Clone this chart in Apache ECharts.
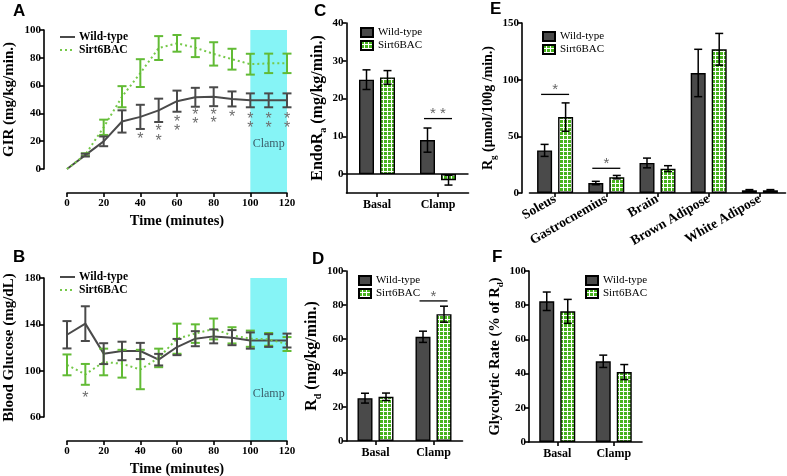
<!DOCTYPE html>
<html><head><meta charset="utf-8">
<script src="https://cdn.jsdelivr.net/npm/echarts@6/dist/echarts.min.js"></script>
<style>html,body{margin:0;padding:0;background:#fff}#c{width:787px;height:476px}</style>
</head><body><div id="c"></div>
<script>
// ---------- DATA ----------
const timePts = [0,10,20,30,40,50,60,70,80,90,100,110,120];
// Panel A: GIR (mg/kg/min.)
const girWT     = [0,10,19.9,34.2,37.5,42.2,48.8,51.6,52,50.4,49.4,49.4,49.4];
const girWTErr  = [0,1,3.5,8,8.7,8.4,7.6,6.8,6.8,5.4,5,5,5];
const girTG     = [0,10.3,30,52,69,87,90.4,87.3,82.8,79,75.4,76,76];
const girTGErr  = [0,1,5.5,7.6,10,8.6,6,6.8,8.4,7.5,7.5,7,7];
const girStars  = [[40,23.2],[50,29.3],[50,22.1],[60,35.7],[60,29.3],[70,40.5],[70,34],[80,40.7],[80,34.5],[90,38.8],[100,37.6],[100,31.2],[110,37.6],[110,31.2],[120,37.6],[120,31.2]];
// Panel B: Blood glucose (mg/dL)
const gluWT     = [131,140.6,114.7,117,117,109.5,120.4,127.6,129.6,128.5,126,126,126];
const gluWTErr  = [11.8,15,9,8,7,5,7,6.5,6,6.5,7,5.5,6];
const gluTG     = [105,96.8,107.5,106,101,111,127.6,132,136,130.5,127.6,127,123];
const gluTGErr  = [9,9,11.5,12,17,8,13,8,9,7,7,5.5,6];
const gluStars  = [[10,78.7]];
const clampRange = [100,120];
const clampLabelA = 18, clampLabelB = 80;
// Panel C: EndoRa
const phaseCats = ['Basal','Clamp'];
const endoWT = [25,9.0],   endoWTErr = [2.6,3.2];
const endoTG = [25.6,-1.6], endoTGErr = [1.8,1.3];
const endoSig = [[1,14.7]], endoSigText = ['* *'];
// Panel D: Rd
const rdWT = [25.2,61.3], rdWTErr = [2.9,3.3];
const rdTG = [26,74.6],   rdTGErr = [2.2,4.7];
const rdSig = [[1,82.4]], rdSigText = ['*'];
// Panel E: Rg
const tissueCats = ['Soleus','Gastrocnemius','Brain','Brown Adipose','White Adipose'];
const rgWT = [37.6,8.8,26.5,105.9,2.4], rgWTErr = [5.3,1.5,4.3,20.9,0.6];
const rgTG = [67,14,21.5,126.8,2.4],    rgTGErr = [12.5,1.5,2.6,14,0.6];
const rgSig = [[0,87],[1,21.8]], rgSigText = ['*','*'];
// Panel F: Glycolytic rate
const glyWT = [82.3,47.2], glyWTErr = [5.4,3.6];
const glyTG = [76.4,40.9], glyTGErr = [7,4.4];

// ---------- STYLE ----------
const serif = "'Liberation Serif', 'DejaVu Serif', serif";
const sans = "'Liberation Sans', Arial, sans-serif";
const wtColor = '#4a4a4a', greenLine = '#76c94a', greenErr = '#62bb35';
const BW = 15, GAPPX = 6, SHIFT = BW/2 + GAPPX/2;

function greenPattern(){
  const c = document.createElement('canvas'); c.width = 4; c.height = 4;
  const g = c.getContext('2d');
  g.fillStyle = '#ffffff'; g.fillRect(0,0,4,4);
  g.fillStyle = '#48b31f'; g.fillRect(0,0,3,3);
  return c;
}
const patternFill = {image: greenPattern(), repeat: 'repeat'};

const axLine = {show:true, onZero:false, lineStyle:{color:'#000', width:1.6}};
const axTick = {show:true, length:4, lineStyle:{color:'#000', width:1.6}};
const lblFont = {fontFamily:serif, fontWeight:'bold', fontSize:11, color:'#000'};
const nameFont = {fontFamily:serif, fontWeight:'bold', fontSize:13.5, color:'#000'};

function valX(grid){
  return {type:'value', gridIndex:grid, min:0, max:120, interval:20, offset:24,
    axisLine:axLine, axisTick:axTick, splitLine:{show:false},
    axisLabel:Object.assign({margin:5}, lblFont),
    name:'Time (minutes)', nameLocation:'middle', nameGap:21,
    nameTextStyle:Object.assign({}, nameFont, {fontSize:14.5})};
}
function catX(grid, cats, extra){
  return Object.assign({type:'category', gridIndex:grid, data:cats,
    axisLine:axLine, axisTick:Object.assign({alignWithLabel:true}, axTick), splitLine:{show:false},
    axisLabel:Object.assign({margin:6}, lblFont, {fontSize:12})}, extra||{});
}
function valY(grid, min, max, interval, name, gap, fs, extra){
  const nf = Object.assign({}, nameFont, {fontSize:fs});
  const o = {type:'value', gridIndex:grid, min:min, max:max, interval:interval,
    axisLine:axLine, axisTick:axTick, splitLine:{show:false},
    axisLabel:Object.assign({margin:3}, lblFont),
    name:name, nameLocation:'middle', nameGap:gap, nameRotate:90,
    nameTextStyle:Object.assign({}, nf, {
      rich:{n:Object.assign({}, nf), s:Object.assign({}, nf, {fontSize:Math.round(fs*0.65), verticalAlign:'bottom', padding:[0,0,-3,0]})}})};
  return Object.assign(o, extra||{});
}

function lineErr(color){
  return function(params, api){
    const x = api.value(0), y = api.value(1), e = api.value(2);
    if (!e) return null;
    const t = api.coord([x, y+e]), b = api.coord([x, y-e]);
    const hw = 4.5;
    const st = () => ({stroke:color, lineWidth:2});
    return {type:'group', children:[
      {type:'line', shape:{x1:t[0], y1:t[1], x2:b[0], y2:b[1]}, style:st()},
      {type:'line', shape:{x1:t[0]-hw, y1:t[1], x2:t[0]+hw, y2:t[1]}, style:st()},
      {type:'line', shape:{x1:b[0]-hw, y1:b[1], x2:b[0]+hw, y2:b[1]}, style:st()}]};
  };
}
function barErr(dx){
  return function(params, api){
    const i = api.value(0), v = api.value(1), e = api.value(2);
    const t = api.coord([i, v+e]), b = api.coord([i, v-e]);
    const x = t[0] + dx, hw = 4;
    const st = () => ({stroke:'#000', lineWidth:1.5});
    return {type:'group', children:[
      {type:'line', shape:{x1:x, y1:t[1], x2:x, y2:b[1]}, style:st()},
      {type:'line', shape:{x1:x-hw, y1:t[1], x2:x+hw, y2:t[1]}, style:st()},
      {type:'line', shape:{x1:x-hw, y1:b[1], x2:x+hw, y2:b[1]}, style:st()}]};
  };
}
function starRender(params, api){
  const c = api.coord([api.value(0), api.value(1)]);
  return {type:'text', x:c[0], y:c[1]+3, style:{text:'*', fill:'#6e6e6e', font:'16px ' + sans,
    align:'center', verticalAlign:'middle', textAlign:'center', textVerticalAlign:'middle'}};
}
function sigRender(texts){
  return function(params, api){
    const c = api.coord([api.value(0), api.value(1)]);
    return {type:'group', children:[
      {type:'line', shape:{x1:c[0]-14, y1:c[1], x2:c[0]+14, y2:c[1]}, style:{stroke:'#000', lineWidth:1.3}},
      {type:'text', x:c[0], y:c[1]+3, style:{text:texts[params.dataIndex], fill:'#666', font:'15px ' + sans,
        align:'center', verticalAlign:'bottom', textAlign:'center', textVerticalAlign:'bottom'}}]};
  };
}
function clampRender(yTop, yBot, labelY){
  return function(params, api){
    const p1 = api.coord([api.value(0), yTop]), p2 = api.coord([api.value(1), yBot]);
    const lp = api.coord([(api.value(0)+api.value(1))/2, labelY]);
    return {type:'group', children:[
      {type:'rect', shape:{x:p1[0], y:p1[1], width:p2[0]-p1[0], height:p2[1]+24-p1[1]}, style:{fill:'#86f4f6'}},
      {type:'text', x:lp[0], y:lp[1], style:{text:'Clamp', fill:'#3c5f6b', font:'12px ' + serif,
        align:'center', verticalAlign:'middle', textAlign:'center', textVerticalAlign:'middle'}}]};
  };
}
function linePanel(idx, wt, wtE, tg, tgE, stars, yTop, yBot, labelY){
  return [
    {type:'custom', xAxisIndex:idx, yAxisIndex:idx, data:[clampRange], renderItem:clampRender(yTop, yBot, labelY), z:0, silent:true, clip:false},
    {type:'line', name:'Wild-type', xAxisIndex:idx, yAxisIndex:idx, data:timePts.map((t,i)=>[t,wt[i]]),
      symbol:'none', lineStyle:{color:wtColor, width:2}, itemStyle:{color:'rgba(0,0,0,0)'}, z:3},
    {type:'line', name:'Sirt6BAC', xAxisIndex:idx, yAxisIndex:idx, data:timePts.map((t,i)=>[t,tg[i]]),
      symbol:'none', lineStyle:{color:greenLine, width:2, type:[2,3]}, itemStyle:{color:'rgba(0,0,0,0)'}, z:3},
    {type:'custom', xAxisIndex:idx, yAxisIndex:idx, data:timePts.map((t,i)=>[t,tg[i],tgE[i]]), renderItem:lineErr(greenErr), z:4, silent:true},
    {type:'custom', xAxisIndex:idx, yAxisIndex:idx, data:timePts.map((t,i)=>[t,wt[i],wtE[i]]), renderItem:lineErr(wtColor), z:5, silent:true},
    {type:'custom', xAxisIndex:idx, yAxisIndex:idx, data:stars, renderItem:starRender, z:5, silent:true}
  ];
}
function barPanel(idx, wt, wtE, tg, tgE, sig, sigText, extraWT){
  const s = [
    Object.assign({type:'bar', name:'Wild-type ', xAxisIndex:idx, yAxisIndex:idx, data:wt, barWidth:BW, barGap:(GAPPX/BW*100)+'%',
      itemStyle:{color:wtColor, borderColor:'#000', borderWidth:1.4}, z:2}, extraWT||{}),
    {type:'bar', name:'Sirt6BAC ', xAxisIndex:idx, yAxisIndex:idx, data:tg, barWidth:BW, barGap:(GAPPX/BW*100)+'%',
      itemStyle:{color:patternFill, borderColor:'#000', borderWidth:1.4}, z:2},
    {type:'custom', xAxisIndex:idx, yAxisIndex:idx, data:wt.map((v,i)=>[i,v,wtE[i]]), renderItem:barErr(-SHIFT), z:4, silent:true},
    {type:'custom', xAxisIndex:idx, yAxisIndex:idx, data:tg.map((v,i)=>[i,v,tgE[i]]), renderItem:barErr(SHIFT), z:4, silent:true}
  ];
  if (sig) s.push({type:'custom', xAxisIndex:idx, yAxisIndex:idx, data:sig, renderItem:sigRender(sigText), z:5, silent:true});
  return s;
}
function lineLegend(left, top){
  return {left:left, top:top, orient:'vertical', itemWidth:15, itemHeight:8, itemGap:1,
    data:['Wild-type','Sirt6BAC'], selectedMode:false,
    textStyle:{fontFamily:serif, fontWeight:'bold', fontSize:11.5, color:'#000', padding:[0,0,0,-1]}};
}
function barLegend(left, top){
  return {left:left, top:top, orient:'vertical', itemWidth:12, itemHeight:9, itemGap:2, icon:'rect',
    data:['Wild-type ','Sirt6BAC '], selectedMode:false, formatter:n => n.trim(),
    textStyle:{fontFamily:serif, fontSize:11, color:'#000'}};
}
function letter(t, l, tp){
  return {type:'text', left:l, top:tp, style:{text:t, font:'bold 17px ' + sans, fill:'#000'}};
}

const chart = echarts.init(document.getElementById('c'));
chart.setOption({
  animation:false,
  backgroundColor:'#fff',
  grid:[
    {left:67, top:30, width:220, height:139, outerBoundsMode:'none'},
    {left:67, top:278, width:220, height:139, outerBoundsMode:'none'},
    {left:346.5, top:23, width:122, height:170, outerBoundsMode:'none'},
    {left:346.5, top:271, width:116, height:170, outerBoundsMode:'none'},
    {left:529.5, top:23, width:256, height:170, outerBoundsMode:'none'},
    {left:529, top:271, width:113, height:171, outerBoundsMode:'none'}
  ],
  xAxis:[
    valX(0), valX(1),
    catX(2, phaseCats), catX(3, phaseCats),
    catX(4, tissueCats, {axisLabel:Object.assign({}, lblFont, {fontSize:13.5, rotate:30, margin:5, interval:0})}),
    catX(5, phaseCats)
  ],
  yAxis:[
    valY(0, 0, 100, 20, 'GIR (mg/kg/min.)', 27, 15, {offset:23}),
    valY(1, 60, 180, 40, 'Blood Glucose (mg/dL)', 27, 15, {offset:23}),
    valY(2, -5, 40, null, '{n|EndoR}{s|a}{n| (mg/kg/min.)}', 21, 16, {
      axisTick:Object.assign({customValues:[0,10,20,30,40]}, axTick),
      axisLabel:Object.assign({margin:3, customValues:[0,10,20,30,40]}, lblFont)}),
    valY(3, 0, 100, 20, '{n|R}{s|d}{n| (mg/kg/min.)}', 23, 16),
    valY(4, 0, 150, 50, '{n|R}{s|g}{n| (μmol/100g /min.)}', 19, 14, {offset:7.5}),
    valY(5, 0, 100, 20, '{n|Glycolytic Rate (% of R}{s|d}{n|)}', 25, 14.5)
  ],
  legend:[
    lineLegend(54, 26), lineLegend(54, 266),
    barLegend(355, 22), barLegend(353, 270),
    barLegend(537, 26), barLegend(580, 270)
  ],
  graphic:[letter('A',13,3), letter('B',13,249), letter('C',314,3), letter('D',312,251), letter('E',490,1), letter('F',492,249)],
  series:[].concat(
    linePanel(0, girWT, girWTErr, girTG, girTGErr, girStars, 100, 0, clampLabelA),
    linePanel(1, gluWT, gluWTErr, gluTG, gluTGErr, gluStars, 180, 60, clampLabelB),
    barPanel(2, endoWT, endoWTErr, endoTG, endoTGErr, endoSig, endoSigText,
      {markLine:{silent:true, symbol:['none','none'], label:{show:false}, lineStyle:{color:'#000', type:'solid', width:1.6}, data:[{yAxis:0}]}}),
    barPanel(3, rdWT, rdWTErr, rdTG, rdTGErr, rdSig, rdSigText),
    barPanel(4, rgWT, rgWTErr, rgTG, rgTGErr, rgSig, rgSigText),
    barPanel(5, glyWT, glyWTErr, glyTG, glyTGErr, null, null)
  )
});
</script></body></html>
